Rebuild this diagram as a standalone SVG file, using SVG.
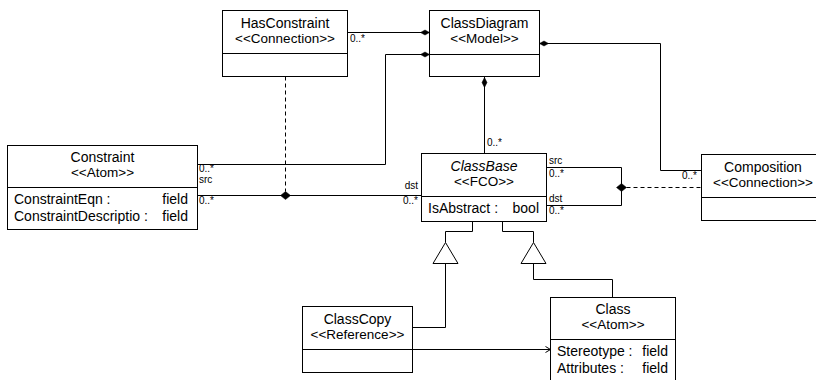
<svg xmlns="http://www.w3.org/2000/svg" width="816" height="380" viewBox="0 0 816 380">
<style>
.box{fill:#fff;stroke:#000;stroke-width:1}
.ln{fill:none;stroke:#000;stroke-width:1}
.dash{fill:none;stroke:#000;stroke-width:1;stroke-dasharray:4 3}
.dia{fill:#000;stroke:#000;stroke-width:0.5}
.tri{fill:#fff;stroke:#000;stroke-width:1}
text{font-family:"Liberation Sans",Arial,sans-serif;fill:#000}
.nm{font-size:14px;text-anchor:middle}
.it{font-style:italic}
.st{font-size:13.5px;text-anchor:middle}
.at{font-size:14px}
.ar{font-size:14px;text-anchor:end}
.lb{font-size:10px}
.lbe{font-size:10px;text-anchor:end}
</style>
<rect width="816" height="380" fill="#fff"/>
<g id="connectors">
<path class="ln" d="M347.5,32.5H429.5"/>
<path class="dia" d="M429.5,32.5L425,30L420.5,32.5L425,35Z"/>
<path class="ln" d="M197.5,164.5H385.5V54.5H429.5"/>
<path class="dia" d="M429.5,54.5L425,52L420.5,54.5L425,57Z"/>
<path class="ln" d="M539.5,43.5H660.5V170.5H701.5"/>
<path class="dia" d="M539.5,43.5L544,41L548.5,43.5L544,46Z"/>
<path class="ln" d="M484.5,76.5V153.5"/>
<path class="dia" d="M484.5,77.5L482,82.5L484.5,87.5L487,82.5Z"/>
<path class="ln" d="M197.5,195.5H421.5"/>
<path class="dash" d="M285.5,76.5V191.5"/>
<path class="dia" d="M280.5,195.5L285.5,191.5L290.5,195.5L285.5,199.5Z"/>
<path class="ln" d="M546.5,167.5H621.5V205.5H546.5"/>
<path class="dash" d="M626.5,187.5H701.5"/>
<path class="dia" d="M616.5,187.5L621.5,183.5L626.5,187.5L621.5,191.5Z"/>
<path class="ln" d="M472.5,221.5V231.5H445.5V242.5"/>
<path class="tri" d="M445.5,242.5L433,263.5H458Z"/>
<path class="ln" d="M445.5,263.5V327.5H412.5"/>
<path class="ln" d="M502.5,221.5V231.5H533.5V242.5"/>
<path class="tri" d="M533.5,242.5L521,263.5H546Z"/>
<path class="ln" d="M533.5,263.5V279.5H612.5V297.5"/>
<path class="ln" d="M412.5,349.5H550.5"/>
<path class="ln" d="M545.5,346.5L550.5,349.5L545.5,352.5"/>
<text class="lb" x="350" y="42">0..*</text>
<text class="lb" x="199" y="172">0..*</text>
<text class="lb" x="199" y="183">src</text>
<text class="lb" x="199" y="204">0..*</text>
<text class="lbe" x="418" y="189">dst</text>
<text class="lbe" x="418" y="204">0..*</text>
<text class="lb" x="487" y="146">0..*</text>
<text class="lb" x="549" y="164">src</text>
<text class="lb" x="549" y="177">0..*</text>
<text class="lb" x="549" y="202">dst</text>
<text class="lb" x="549" y="214">0..*</text>
<text class="lbe" x="697" y="179">0..*</text>
</g>
<g id="HasConstraint">
<rect class="box" x="222.5" y="10.5" width="125" height="66"/>
<path class="ln" d="M222.5,53.5H347.5"/>
<text class="nm" x="285" y="28">HasConstraint</text>
<text class="st" x="285" y="43">&lt;&lt;Connection&gt;&gt;</text>
</g>
<g id="ClassDiagram">
<rect class="box" x="429.5" y="10.5" width="110" height="66"/>
<path class="ln" d="M429.5,54.5H539.5"/>
<text class="nm" x="484.5" y="28">ClassDiagram</text>
<text class="st" x="484.5" y="43">&lt;&lt;Model&gt;&gt;</text>
</g>
<g id="Constraint">
<rect class="box" x="7.5" y="145.5" width="190" height="84"/>
<path class="ln" d="M7.5,187.5H197.5"/>
<text class="nm" x="102.5" y="162">Constraint</text>
<text class="st" x="102.5" y="177">&lt;&lt;Atom&gt;&gt;</text>
<text class="at" x="14" y="204">ConstraintEqn :</text>
<text class="ar" x="188" y="204">field</text>
<text class="at" x="14" y="221">ConstraintDescriptio :</text>
<text class="ar" x="188" y="221">field</text>
</g>
<g id="ClassBase">
<rect class="box" x="421.5" y="153.5" width="125" height="68"/>
<path class="ln" d="M421.5,196.5H546.5"/>
<text class="nm it" x="484" y="171">ClassBase</text>
<text class="st" x="484" y="186">&lt;&lt;FCO&gt;&gt;</text>
<text class="at" x="428" y="213">IsAbstract :</text>
<text class="ar" x="539" y="213">bool</text>
</g>
<g id="Composition">
<rect class="box" x="701.5" y="154.5" width="125" height="66"/>
<path class="ln" d="M701.5,197.5H826.5"/>
<text class="nm" x="763" y="172">Composition</text>
<text class="st" x="763" y="187">&lt;&lt;Connection&gt;&gt;</text>
</g>
<g id="ClassCopy">
<rect class="box" x="302.5" y="306.5" width="110" height="66"/>
<path class="ln" d="M302.5,349.5H412.5"/>
<text class="nm" x="357.5" y="324">ClassCopy</text>
<text class="st" x="357.5" y="339">&lt;&lt;Reference&gt;&gt;</text>
</g>
<g id="Class">
<rect class="box" x="550.5" y="297.5" width="125" height="90"/>
<path class="ln" d="M550.5,339.5H675.5"/>
<text class="nm" x="613" y="314">Class</text>
<text class="st" x="613" y="329">&lt;&lt;Atom&gt;&gt;</text>
<text class="at" x="557" y="356">Stereotype :</text>
<text class="ar" x="668" y="356">field</text>
<text class="at" x="557" y="373">Attributes :</text>
<text class="ar" x="668" y="373">field</text>
</g>
</svg>
